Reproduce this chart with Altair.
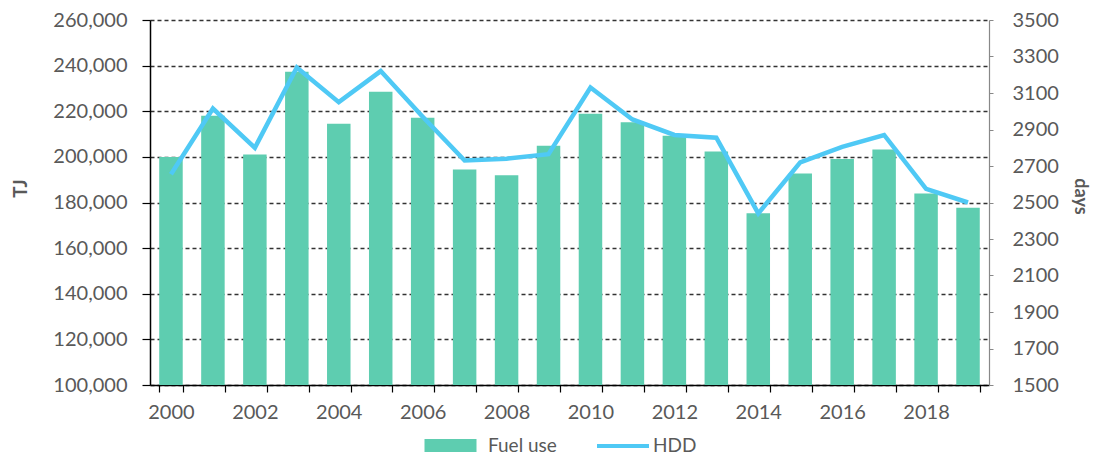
import altair as alt
import pandas as pd

years = list(range(2000, 2020))
fuel_use = [200000, 218000, 201000, 237300, 214500, 228600, 217100, 194500, 192000, 204900,
            218900, 215200, 209300, 202400, 175300, 192700, 199100, 203200, 184000, 177700]
hdd = [2655, 3015, 2800, 3240, 3050, 3220, 2970, 2730, 2740, 2765,
       3130, 2955, 2870, 2855, 2440, 2720, 2805, 2870, 2575, 2500]
left_ticks = list(range(100000, 260001, 20000))
right_ticks = list(range(1500, 3501, 200))

df = pd.DataFrame({"year": years, "fuel": fuel_use, "hdd": hdd,
                   "s1": ["Fuel use"] * len(years), "s2": ["HDD"] * len(years)})

FONT = "Lato"
LBL = "#595959"

xenc = alt.X("year:O", title=None,
             scale=alt.Scale(paddingInner=0.44, paddingOuter=0.22),
             axis=alt.Axis(labelAngle=0, tickBand="extent", tickSize=7, tickColor="black",
                           domainColor="black", domainWidth=1.5, tickWidth=1.2,
                           labelFont=FONT, labelFontSize=20, labelColor=LBL, labelPadding=10,
                           labelExpr="datum.value % 2 == 0 ? datum.label : ''"))

bars = alt.Chart(df).mark_bar(color="#5ECDB0", clip=True).encode(
    x=xenc,
    y=alt.Y("fuel:Q", scale=alt.Scale(domain=[100000, 260000], zero=False, nice=False),
            axis=alt.Axis(title="TJ", orient="left", values=left_ticks, format=",.0f",
                          titleFont=FONT, titleFontSize=19, titleFontWeight="bold", titleColor=LBL,
                          titleX=-130, titleY=168, titleBaseline="middle",
                          labelFont=FONT, labelFontSize=20, labelColor=LBL, labelPadding=15,
                          tickSize=8, tickColor="black", tickWidth=1.2,
                          domainColor="black", domainWidth=1.5,
                          grid=True, gridDash=[4, 3], gridColor="#333333", gridWidth=1.3)),
    y2=alt.datum(100000),
    fill=alt.Fill("s1:N", title=None,
                  scale=alt.Scale(domain=["Fuel use"], range=["#5ECDB0"]),
                  legend=alt.Legend(orient="none", legendX=268, legendY=393,
                                    symbolType="stroke", symbolSize=2704, symbolStrokeWidth=13,
                                    symbolStrokeColor="#5ECDB0", labelOffset=5,
                                    labelFont=FONT, labelFontSize=19, labelColor=LBL)),
)

line = alt.Chart(df).mark_line(strokeWidth=4.5, clip=True).encode(
    x=xenc,
    y=alt.Y("hdd:Q", scale=alt.Scale(domain=[1500, 3500], zero=False, nice=False),
            axis=alt.Axis(title="days", orient="right", values=right_ticks, format="d",
                          titleFont=FONT, titleFontSize=18, titleFontWeight="bold", titleColor=LBL,
                          titleX=90, titleY=176, titleBaseline="middle",
                          labelFont=FONT, labelFontSize=20, labelColor=LBL, labelPadding=19,
                          tickSize=4, tickColor="#888888", domainColor="#888888",
                          domainWidth=1.2, grid=False)),
    stroke=alt.Stroke("s2:N", title=None,
                      scale=alt.Scale(domain=["HDD"], range=["#4FC9F5"]),
                      legend=alt.Legend(orient="none", legendX=445, legendY=398,
                                        symbolType="stroke", symbolSize=2704, symbolStrokeWidth=4,
                                        labelOffset=2,
                                        labelFont=FONT, labelFontSize=19, labelColor=LBL)),
)

chart = alt.layer(bars, line).resolve_scale(y="independent", fill="independent", stroke="independent").properties(
    width=839, height=365,
    autosize=alt.AutoSizeParams(type="none"),
    padding={"left": 142, "top": 12, "right": 102, "bottom": 70},
).configure_view(stroke=None)

chart.save("out.html", embed_options={"renderer": "svg", "actions": False})
